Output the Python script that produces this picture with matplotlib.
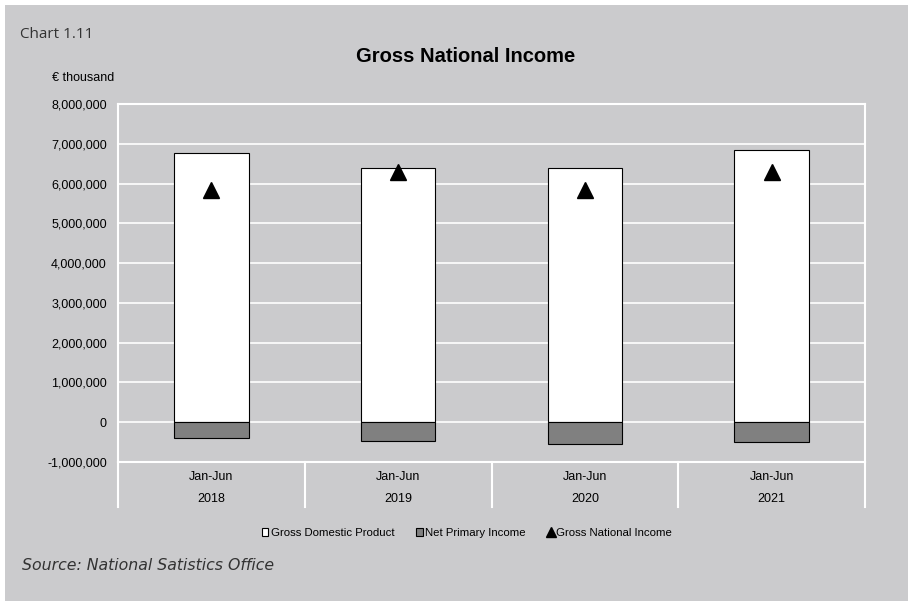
import matplotlib
matplotlib.use("Agg")
import matplotlib.pyplot as plt
import matplotlib.transforms as mtransforms
from matplotlib.patches import Rectangle
from matplotlib.lines import Line2D
import numpy as np

periods = ["Jan-Jun", "Jan-Jun", "Jan-Jun", "Jan-Jun"]
years = ["2018", "2019", "2020", "2021"]
gdp = [6780000, 6400000, 6400000, 6840000]
npi = [-385000, -480000, -555000, -505000]
gni = [5830000, 6280000, 5830000, 6300000]

bg = "#cbcbcd"
plt.rcParams["font.family"] = ["Liberation Sans", "DejaVu Sans"]

fig = plt.figure(figsize=(9.08, 6.01), dpi=100)
fig.patch.set_facecolor("white")
# grey panel, white strip only on the left and top
fig.patches.append(Rectangle((5 / 908, -0.1), 1.2, 1.1 - 5 / 601, transform=fig.transFigure,
                             facecolor=bg, edgecolor="none", zorder=-10))

ax = fig.add_axes([118 / 908, 1 - 462 / 601, (865 - 118) / 908, (462 - 104) / 601])
ax.set_facecolor(bg)

x = np.arange(len(years))
ax.bar(x, gdp, width=0.4, color="white", edgecolor="black", linewidth=0.8, zorder=3)
ax.bar(x, npi, width=0.4, color="#808080", edgecolor="black", linewidth=0.8, zorder=3)
ax.plot(x, gni, linestyle="none", marker="^", color="black", markersize=11, zorder=4)

ax.set_xlim(-0.5, len(years) - 0.5)
ax.set_ylim(-1000000, 8000000)
ticks = np.arange(-1000000, 8000001, 1000000)
ax.set_yticks(ticks)
ax.set_yticklabels([f"{v:,}" for v in ticks], fontsize=9)
ax.yaxis.grid(True, color="white", linewidth=1.2, zorder=0)
ax.tick_params(axis="y", length=0, pad=8)
ax.set_xticks([])
for s in ["left", "right", "top", "bottom"]:
    ax.spines[s].set_color("white")
    ax.spines[s].set_linewidth(1.5)

# category separators and labels below the axis
trans = mtransforms.blended_transform_factory(ax.transData, ax.transAxes)
drop = (507 - 462) / 358
for b in np.arange(-0.5, len(years), 1.0):
    ax.add_line(Line2D([b, b], [0, -drop], transform=trans, color="white",
                       linewidth=1.5, clip_on=False))
for i in range(len(years)):
    ax.text(x[i], -(477 - 462) / 358, periods[i], transform=trans, ha="center",
            va="center", fontsize=9)
    ax.text(x[i], -(499 - 462) / 358, years[i], transform=trans, ha="center",
            va="center", fontsize=9)

fig.text(466 / 908, 1 - 57 / 601, "Gross National Income", ha="center", va="center",
         fontsize=14.5, fontweight="bold")
fig.text(20 / 908, 1 - 34 / 601, "Chart 1.11", ha="left", va="center", fontsize=11,
         family="Open Sans", color="#333333")
fig.text(52 / 908, 1 - 78 / 601, "€ thousand", ha="left", va="center", fontsize=9)
fig.text(22 / 908, 1 - 566 / 601, "Source: National Satistics Office", ha="left",
         va="center", fontsize=11.3, family="DejaVu Sans", style="italic", color="#333333")

handles = [
    Rectangle((0, 0), 1, 1, facecolor="white", edgecolor="black", linewidth=0.8),
    Rectangle((0, 0), 1, 1, facecolor="#808080", edgecolor="black", linewidth=0.8),
    Line2D([], [], linestyle="none", marker="^", color="black", markersize=7),
]
fig.legend(handles, ["Gross Domestic Product", "Net Primary Income", "Gross National Income"],
           loc="center", bbox_to_anchor=(467 / 908, 1 - 533 / 601), ncol=3, frameon=False,
           fontsize=8.2, handlelength=0.6, handleheight=0.6, handletextpad=0.2,
           columnspacing=1.9)

fig.savefig("out.png", dpi=100, facecolor=fig.get_facecolor())
